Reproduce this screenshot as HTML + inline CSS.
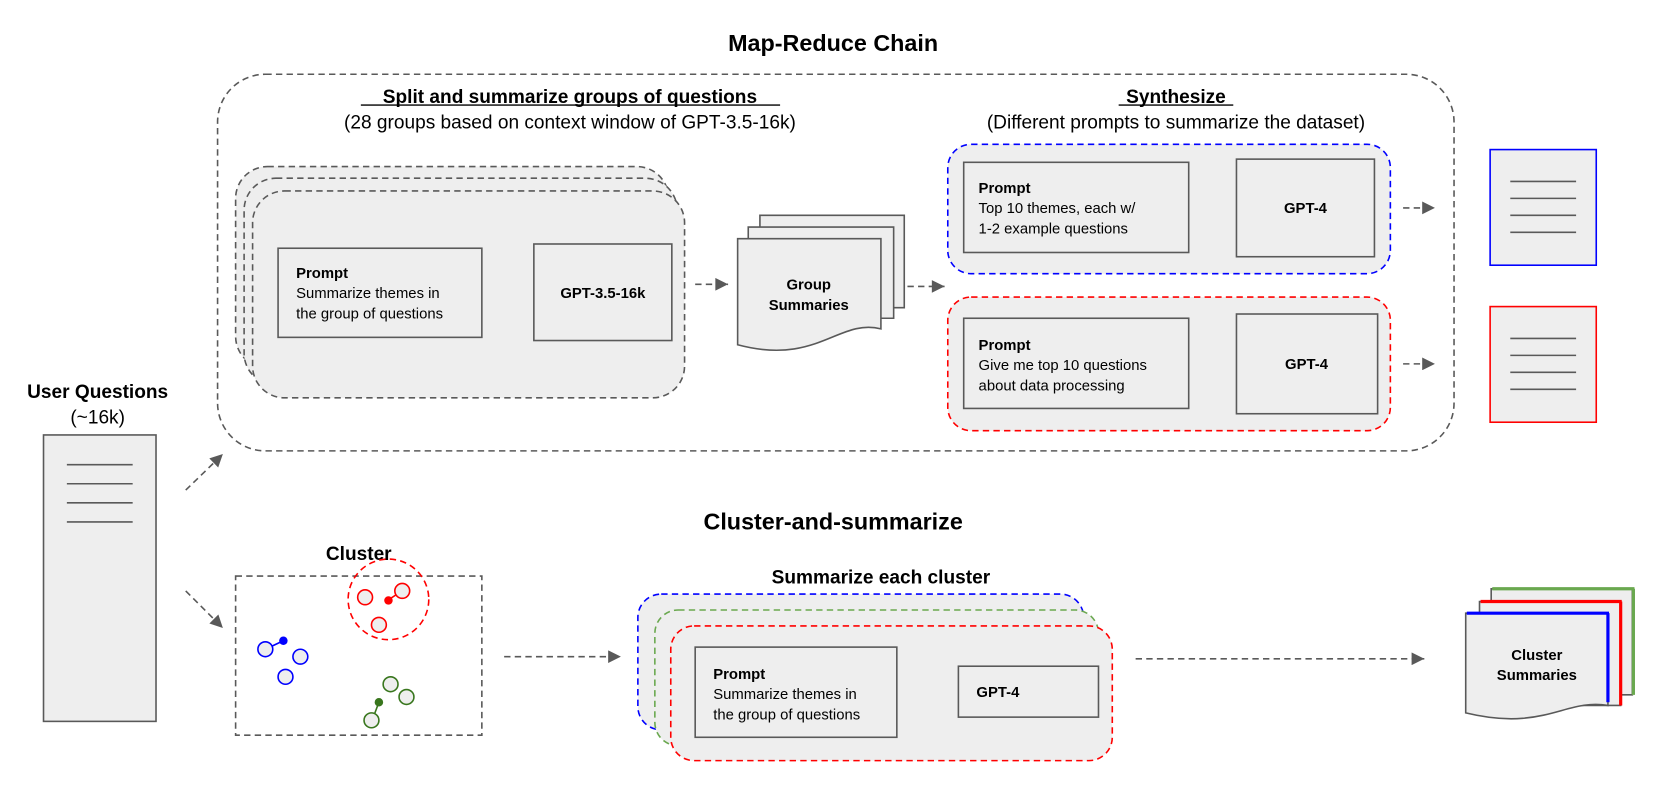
<!DOCTYPE html>
<html><head><meta charset="utf-8"><style>
html,body{margin:0;padding:0;background:#fff;}
svg{display:block;font-family:"Liberation Sans",Arial,sans-serif;}
.b{font-weight:bold;}
</style></head><body>
<svg width="1661" height="802" viewBox="0 0 1565 756" preserveAspectRatio="none" xmlns="http://www.w3.org/2000/svg">
<defs>
<marker id="a2" viewBox="0 0 10 10" refX="10" refY="5" markerWidth="16" markerHeight="12" orient="auto" markerUnits="userSpaceOnUse">
<path d="M0,0 L10,5 L0,10 z" fill="#595959"/>
</marker>
</defs>
<g stroke="#595959" stroke-width="1.5" fill="none" stroke-dasharray="6,4">
<line x1="175" y1="462" x2="210" y2="428" marker-end="url(#a2)"/>
<line x1="175" y1="557" x2="210" y2="592" marker-end="url(#a2)"/>
<line x1="460" y1="271" x2="494" y2="271" marker-end="url(#a2)"/>
<line x1="655" y1="268" x2="686" y2="268" marker-end="url(#a2)"/>
<line x1="845" y1="270" x2="890" y2="270" marker-end="url(#a2)"/>
<line x1="1128" y1="196" x2="1158" y2="196" marker-end="url(#a2)"/>
<line x1="1128" y1="343" x2="1158" y2="343" marker-end="url(#a2)"/>
<line x1="1322" y1="196" x2="1352" y2="196" marker-end="url(#a2)"/>
<line x1="1322" y1="343" x2="1352" y2="343" marker-end="url(#a2)"/>
<line x1="475" y1="619" x2="585" y2="619" marker-end="url(#a2)"/>
<line x1="860" y1="652" x2="892" y2="652" marker-end="url(#a2)"/>
<line x1="1070" y1="621" x2="1342" y2="621" marker-end="url(#a2)"/>
</g>
<text x="785" y="48" text-anchor="middle" class="b" font-size="22">Map-Reduce Chain</text>
<rect x="205" y="70" width="1165" height="355" rx="45" fill="none" stroke="#595959" stroke-width="1.5" stroke-dasharray="6,4"/>
<text x="537" y="97" text-anchor="middle" class="b" font-size="18">Split and summarize groups of questions</text>
<line x1="340" y1="99" x2="735" y2="99" stroke="#000" stroke-width="1.3"/>
<text x="537" y="121" text-anchor="middle" font-size="18">(28 groups based on context window of GPT-3.5-16k)</text>
<text x="1108" y="97" text-anchor="middle" class="b" font-size="18">Synthesize</text>
<line x1="1054" y1="99" x2="1162" y2="99" stroke="#000" stroke-width="1.3"/>
<text x="1108" y="121" text-anchor="middle" font-size="18">(Different prompts to summarize the dataset)</text>
<g fill="#eeeeee" stroke="#595959" stroke-width="1.5" stroke-dasharray="6,4">
<rect x="222" y="157" width="408" height="190" rx="30"/>
<rect x="230" y="168" width="408" height="195" rx="30"/>
<rect x="238" y="180" width="407" height="195" rx="30"/>
</g>
<g fill="#eeeeee" stroke="#595959" stroke-width="1.5">
<rect x="262" y="234" width="192" height="84"/>
<rect x="503" y="230" width="130" height="91"/>
</g>
<text x="279" y="262" class="b" font-size="14">Prompt</text>
<text x="279" y="281" font-size="14">Summarize themes in</text>
<text x="279" y="300" font-size="14">the group of questions</text>
<text x="568" y="281" text-anchor="middle" class="b" font-size="14">GPT-3.5-16k</text>
<g fill="#eeeeee" stroke="#595959" stroke-width="1.5">
<path d="M716,203 H852 V290 H716 Z"/>
<path d="M705,214 H842 V300 H705 Z"/>
<path d="M695,225 H830 V310 C790,300 770,345 695,325 Z"/>
</g>
<text x="762" y="273" text-anchor="middle" class="b" font-size="14">Group</text>
<text x="762" y="292" text-anchor="middle" class="b" font-size="14">Summaries</text>
<rect x="893" y="136" width="417" height="122" rx="22" fill="#eeeeee" stroke="#0000ff" stroke-width="1.5" stroke-dasharray="6,4"/>
<rect x="893" y="280" width="417" height="126" rx="22" fill="#eeeeee" stroke="#ff0000" stroke-width="1.5" stroke-dasharray="6,4"/>
<g fill="#eeeeee" stroke="#595959" stroke-width="1.5">
<rect x="908" y="153" width="212" height="85"/>
<rect x="1165" y="150" width="130" height="92"/>
<rect x="908" y="300" width="212" height="85"/>
<rect x="1165" y="296" width="133" height="94"/>
</g>
<text x="922" y="182" class="b" font-size="14">Prompt</text>
<text x="922" y="201" font-size="14">Top 10 themes, each w/</text>
<text x="922" y="220" font-size="14">1-2 example questions</text>
<text x="1230" y="201" text-anchor="middle" class="b" font-size="14">GPT-4</text>
<text x="922" y="330" class="b" font-size="14">Prompt</text>
<text x="922" y="349" font-size="14">Give me top 10 questions</text>
<text x="922" y="368" font-size="14">about data processing</text>
<text x="1231" y="348" text-anchor="middle" class="b" font-size="14">GPT-4</text>
<rect x="1404" y="141" width="100" height="109" fill="#eeeeee" stroke="#0000ff" stroke-width="1.5"/>
<rect x="1404" y="289" width="100" height="109" fill="#eeeeee" stroke="#ff0000" stroke-width="1.5"/>
<g stroke="#595959" stroke-width="1.5">
<line x1="1423" y1="171" x2="1485" y2="171"/><line x1="1423" y1="187" x2="1485" y2="187"/><line x1="1423" y1="203" x2="1485" y2="203"/><line x1="1423" y1="219" x2="1485" y2="219"/>
<line x1="1423" y1="319" x2="1485" y2="319"/><line x1="1423" y1="335" x2="1485" y2="335"/><line x1="1423" y1="351" x2="1485" y2="351"/><line x1="1423" y1="367" x2="1485" y2="367"/>
</g>
<text x="92" y="375" text-anchor="middle" class="b" font-size="18">User Questions</text>
<text x="92" y="399" text-anchor="middle" font-size="18">(~16k)</text>
<rect x="41" y="410" width="106" height="270" fill="#eeeeee" stroke="#595959" stroke-width="1.5"/>
<g stroke="#595959" stroke-width="1.5">
<line x1="63" y1="438" x2="125" y2="438"/><line x1="63" y1="456" x2="125" y2="456"/><line x1="63" y1="474" x2="125" y2="474"/><line x1="63" y1="492" x2="125" y2="492"/>
</g>
<text x="785" y="499" text-anchor="middle" class="b" font-size="22">Cluster-and-summarize</text>
<text x="338" y="528" text-anchor="middle" class="b" font-size="18">Cluster</text>
<rect x="222" y="543" width="232" height="150" fill="none" stroke="#595959" stroke-width="1.5" stroke-dasharray="6,4"/>
<circle cx="366" cy="565" r="38" fill="none" stroke="#ff0000" stroke-width="1.5" stroke-dasharray="6,4"/>
<g stroke-width="1.5" fill="#eeeeee">
<line x1="365" y1="566" x2="379" y2="557" stroke="#ff0000"/>
<circle cx="344" cy="563" r="7" stroke="#ff0000"/><circle cx="379" cy="557" r="7" stroke="#ff0000"/><circle cx="357" cy="589" r="7" stroke="#ff0000"/>
<line x1="250" y1="612" x2="267" y2="604" stroke="#0000ff"/>
<circle cx="250" cy="612" r="7" stroke="#0000ff"/><circle cx="283" cy="619" r="7" stroke="#0000ff"/><circle cx="269" cy="638" r="7" stroke="#0000ff"/>
<line x1="357" y1="662" x2="351" y2="678" stroke="#38761d"/>
<circle cx="368" cy="645" r="7" stroke="#38761d"/><circle cx="383" cy="657" r="7" stroke="#38761d"/><circle cx="350" cy="679" r="7" stroke="#38761d"/>
</g>
<circle cx="366" cy="566" r="4" fill="#ff0000"/>
<circle cx="267" cy="604" r="4" fill="#0000ff"/>
<circle cx="357" cy="662" r="4" fill="#38761d"/>
<text x="830" y="550" text-anchor="middle" class="b" font-size="18">Summarize each cluster</text>
<rect x="601" y="560" width="420" height="128" rx="22" fill="#eeeeee" stroke="#0000ff" stroke-width="1.5" stroke-dasharray="6,4"/>
<rect x="617" y="575" width="418" height="128" rx="22" fill="#eeeeee" stroke="#6aa84f" stroke-width="1.5" stroke-dasharray="6,4"/>
<rect x="632" y="590" width="416" height="127" rx="22" fill="#eeeeee" stroke="#ff0000" stroke-width="1.5" stroke-dasharray="6,4"/>
<rect x="655" y="610" width="190" height="85" fill="#eeeeee" stroke="#595959" stroke-width="1.5"/>
<rect x="903" y="628" width="132" height="48" fill="#eeeeee" stroke="#595959" stroke-width="1.5"/>
<text x="672" y="640" class="b" font-size="14">Prompt</text>
<text x="672" y="659" font-size="14">Summarize themes in</text>
<text x="672" y="678" font-size="14">the group of questions</text>
<text x="920" y="657" class="b" font-size="14">GPT-4</text>
<g fill="#eeeeee" stroke="#595959" stroke-width="1.5">
<path d="M1405,555 H1538 V655 H1405 Z"/>
<path d="M1394,567 H1527 V665 H1394 Z"/>
<path d="M1381,578 H1515 V665 C1475,658 1455,690 1381,672 Z"/>
</g>
<line x1="1406" y1="555" x2="1540" y2="555" stroke="#6aa84f" stroke-width="3"/>
<line x1="1539" y1="555" x2="1539" y2="655" stroke="#6aa84f" stroke-width="3"/>
<line x1="1395" y1="567" x2="1528" y2="567" stroke="#ff0000" stroke-width="3"/>
<line x1="1527" y1="567" x2="1527" y2="665" stroke="#ff0000" stroke-width="3"/>
<line x1="1382" y1="578" x2="1516" y2="578" stroke="#0000ff" stroke-width="3"/>
<line x1="1515" y1="578" x2="1515" y2="662" stroke="#0000ff" stroke-width="3"/>
<text x="1448" y="622" text-anchor="middle" class="b" font-size="14">Cluster</text>
<text x="1448" y="641" text-anchor="middle" class="b" font-size="14">Summaries</text>
</svg>
</body></html>
